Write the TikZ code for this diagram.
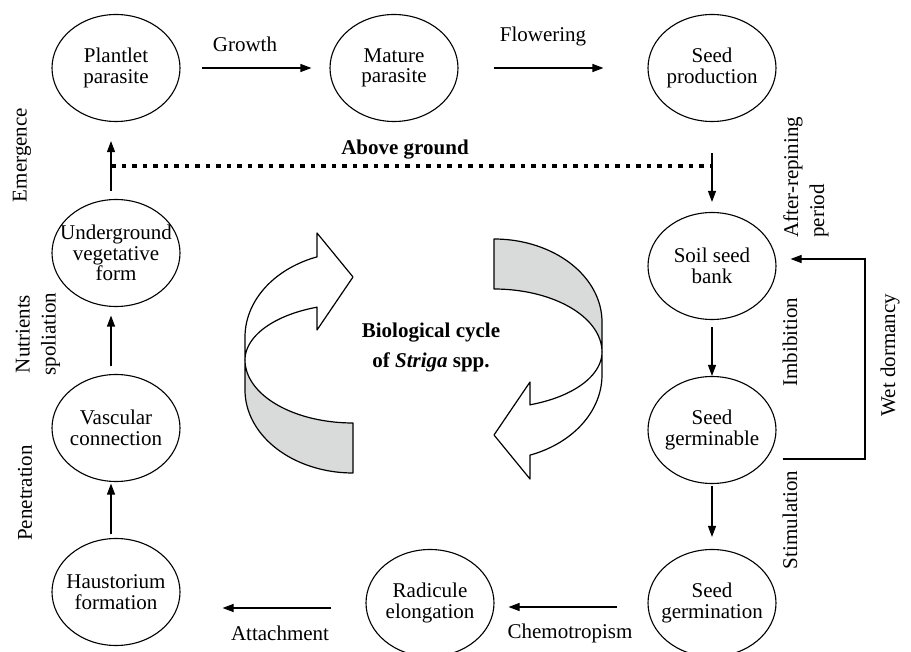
\documentclass[tikz,border=0pt]{standalone}
\usepackage{fontspec}
\setmainfont{Liberation Serif}
\usetikzlibrary{shapes.geometric,arrows.meta,calc}
\definecolor{ribbongray}{RGB}{217,219,218}
\begin{document}
\begin{tikzpicture}[x=1pt,y=-1pt,
  every node/.style={font=\fontsize{21}{20.5}\selectfont},
  stage/.style={ellipse, draw, line width=1.1pt, minimum width=128pt, minimum height=107pt,
                inner xsep=-30pt, inner ysep=0pt, align=center},
  flow/.style={-{Triangle[length=11pt,width=8pt]}, line width=1.1pt},
  ground/.style={line width=4pt, dash pattern=on 4.5pt off 6pt},
  vlab/.style={rotate=90, inner sep=0pt, align=center, font=\fontsize{21}{26}\selectfont},
  ribbon/.style={line width=1.2pt, line join=round},
  pics/curlarrow/.style={code={
    \filldraw[ribbon, fill=ribbongray] (245,360) -- (245,390)
      -- plot[domain=180:270, samples=40] ({353+108*cos(\x)},{390-83*sin(\x)})
      -- (353,423)
      -- plot[domain=270:180, samples=40] ({353+108*cos(\x)},{360-63*sin(\x)}) -- cycle;
    \filldraw[ribbon, fill=white] (317,257) -- (317,233) -- (353,277) -- (317,330) -- (317,307)
      -- plot[domain=109.5:180, samples=40] ({353+108*cos(\x)},{360-56*sin(\x)})
      -- (245,337)
      -- plot[domain=180:109.5, samples=40] ({353+108*cos(\x)},{337-85*sin(\x)}) -- cycle;
  }}
]
\useasboundingbox (0,0) rectangle (911,652);

% stages
\node[stage] (pp) at (116,68) {Plantlet\\parasite};
\node[stage] (mp) at (394,68) {Mature\\parasite};
\node[stage] (sp) at (712,68) {Seed\\production};
\node[stage] (sb) at (712,266) {Soil seed\\bank};
\node[stage] (sg) at (712,430) {Seed\\germinable};
\node[stage] (gn) at (712,603) {Seed\\germination};
\node[stage] (re) at (430,603) {Radicule\\elongation};
\node[stage] (hf) at (116,592) {Haustorium\\formation};
\node[stage] (vc) at (116,428) {Vascular\\connection};
\node[stage] (uv) at (116,253) {Underground\\vegetative\\form};

% connectors
\draw[flow, shorten <=21pt, shorten >=18pt] (pp.east) -- (mp.west);
\draw[flow, shorten <=35pt, shorten >=44pt] (mp.east) -- (sp.west);
\draw[flow, shorten <=31pt, shorten >=10pt] (sp.south) -- (sb.north);
\draw[flow, shorten <=7pt] (sb.south) -- (sg.north);
\draw[flow, shorten <=1.5pt, shorten >=12pt] (sg.south) -- (gn.north);
\draw[flow, shorten <=30pt, shorten >=14pt] ($(gn.west)+(0,4)$) -- ($(re.east)+(0,4)$);
\draw[flow, shorten <=34pt, shorten >=42pt] ($(re.west)+(0,5)$) -- ($(hf.east)+(0,16)$);
\draw[flow, shorten <=3.5pt, shorten >=1.5pt] ([xshift=-5pt]hf.north) -- ([xshift=-5pt]vc.south);
\draw[flow, shorten <=7.5pt, shorten >=8.5pt] ([xshift=-5pt]vc.north) -- ([xshift=-5pt]uv.south);
\draw[flow, shorten <=8pt, shorten >=19pt] ([xshift=-5pt]uv.north) -- ([xshift=-5pt]pp.south);
\coordinate (wd) at (865,459);
\draw[flow] ($(sg.east)+(6,29)$) -- (wd) |- ($(sb.east)+(14,-7)$);

% above ground line
\coordinate (gl) at (111,166);
\coordinate (gr) at (712,166);
\draw[ground] (gl) -- (gr);
\node[font=\fontsize{21}{20.5}\selectfont\bfseries] (ag) at (405,150) {Above ground};

% edge labels
\node (growth) at (245,44) {Growth};
\node (flowering) at (543,36) {Flowering};
\node (attach) at (280,633) {Attachment};
\node (chemo) at (570,633) {Chemotropism};
\node[vlab] (emer) at (22,155) {Emergence};
\node[vlab] (nutr) at (38,334) {Nutrients\\spoliation};
\node[vlab] (pene) at (25,493) {Penetration};
\node[vlab] (imbi) at (790,342) {Imbibition};
\node[vlab] (stim) at (790,520) {Stimulation};
\node[vlab] (wetd) at (890,355) {Wet dormancy};
\node[vlab, align=left, anchor=west] (arp) at (806,238) {After-repining\\period};

% central cycle
\pic (leftcurl) at (0,0) {curlarrow};
\pic[rotate=180] (rightcurl) at (847,712) {curlarrow};
\node[font=\fontsize{21}{30}\selectfont\bfseries, align=center] (bio) at (431,347)
  {Biological cycle\\of \textit{Striga} spp.};
\end{tikzpicture}
\end{document}
